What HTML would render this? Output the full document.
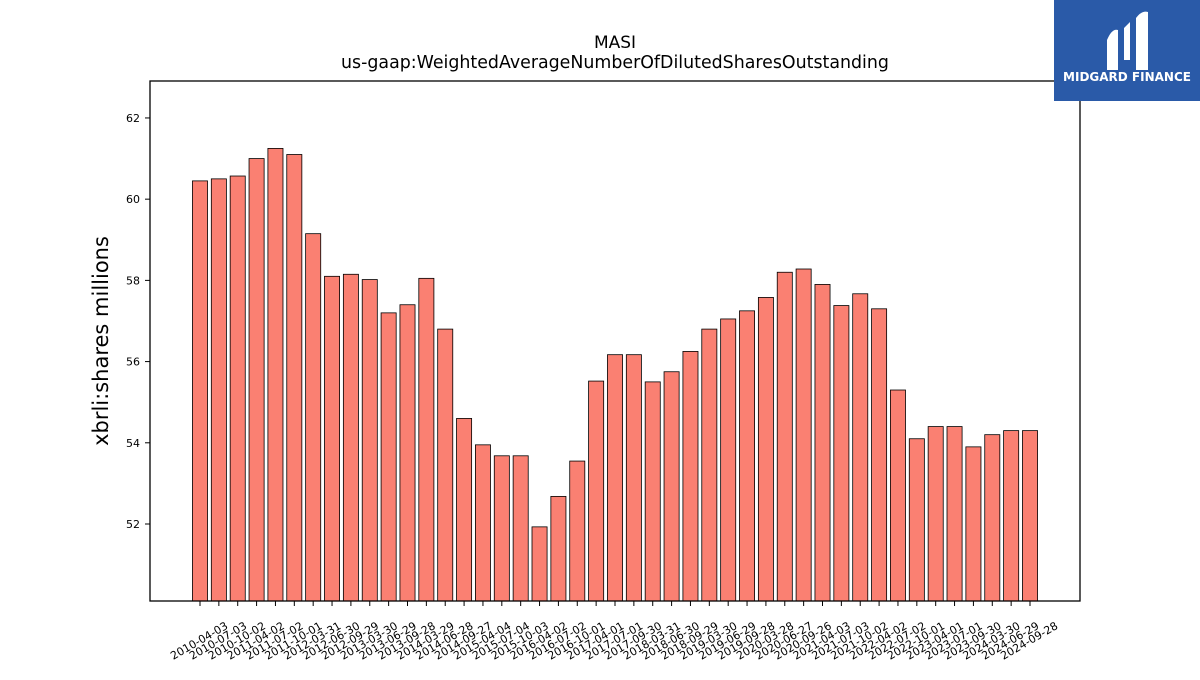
<!DOCTYPE html>
<html><head><meta charset="utf-8"><style>
body{margin:0;background:#fff;font-family:"Liberation Sans","DejaVu Sans",sans-serif}
</style></head><body>
<svg width="1200" height="675" xmlns="http://www.w3.org/2000/svg" font-family="DejaVu Sans, Liberation Sans, sans-serif">
<text x="615" y="48" text-anchor="middle" font-size="17">MASI</text>
<text x="615" y="68" text-anchor="middle" font-size="17.4">us-gaap:WeightedAverageNumberOfDilutedSharesOutstanding</text>
<text transform="translate(108,341) rotate(-90)" text-anchor="middle" font-size="21">xbrli:shares millions</text>
<g id="bars"></g>
<g id="axes"></g>
<rect x="150" y="81" width="930" height="520" fill="none" stroke="#000" stroke-width="1.3"/>
<g>
<rect x="1054" y="0" width="146" height="101" fill="#2a5aa8"/>
<path d="M1107 70 L1107 40 Q1112 28 1118 30 L1118 70 Z M1124 60 L1124 28 L1130 22 L1130 60 Z M1136 70 L1136 18 Q1142 10 1148 12 L1148 70 Z" fill="#fff"/>
<text x="1127" y="81" text-anchor="middle" font-size="12" font-weight="bold" fill="#fff">MIDGARD FINANCE</text>
</g>
</svg>
<script>
const categories=["2010-04-03","2010-07-03","2010-10-02","2011-04-02","2011-07-02","2011-10-01","2012-03-31","2012-06-30","2012-09-29","2013-03-30","2013-06-29","2013-09-28","2014-03-29","2014-06-28","2014-09-27","2015-04-04","2015-07-04","2015-10-03","2016-04-02","2016-07-02","2016-10-01","2017-04-01","2017-07-01","2017-09-30","2018-03-31","2018-06-30","2018-09-29","2019-03-30","2019-06-29","2019-09-28","2020-03-28","2020-06-27","2020-09-26","2021-04-03","2021-07-03","2021-10-02","2022-04-02","2022-07-02","2022-10-01","2023-04-01","2023-07-01","2023-09-30","2024-03-30","2024-06-29","2024-09-28"];
const values=[60.45,60.5,60.57,61.0,61.25,61.1,59.15,58.1,58.15,58.02,57.2,57.4,58.05,56.8,54.6,53.95,53.68,53.68,51.93,52.68,53.55,55.52,56.17,56.17,55.5,55.75,56.25,56.8,57.05,57.25,57.58,58.2,58.28,57.9,57.38,57.67,57.3,55.3,54.1,54.4,54.4,53.9,54.2,54.3,54.3];
const yTicks=[52,54,56,58,60,62];
const NS="http://www.w3.org/2000/svg";
const L=150,R=1080,T=81,B=601;
const yMin=50.104,yMax=62.91;
const xMin=-2.65,xMax=categories.length-1+2.65;
const y=v=>B-(v-yMin)/(yMax-yMin)*(B-T);
const x=i=>L+(i-xMin)/(xMax-xMin)*(R-L);
const bw=(x(0.8)-x(0));
const bars=document.getElementById('bars'),axes=document.getElementById('axes');
function mk(t,a,p){const e=document.createElementNS(NS,t);for(const k in a)e.setAttribute(k,a[k]);p.appendChild(e);return e;}
values.forEach((v,i)=>{
 const r=mk('rect',{x:x(i)-bw/2,y:y(v),width:bw,height:B-y(v),fill:'#fa8072',stroke:'#000','stroke-width':0.8},bars);
 
 
});
yTicks.forEach(t=>{
 mk('line',{x1:L-5,x2:L,y1:y(t),y2:y(t),stroke:'#000'},axes);
 const tx=mk('text',{x:L-10,y:y(t)+4,'text-anchor':'end','font-size':11},axes);
 tx.textContent=t;
 
 
});
categories.forEach((c,i)=>{
 mk('line',{x1:x(i),x2:x(i),y1:B,y2:B+5,stroke:'#000'},axes);
 const tx=mk('text',{transform:`translate(${x(i)+1},${B+43}) rotate(-30)`,'text-anchor':'middle','font-size':11},axes);
 tx.textContent=c;
 
 
});
</script>
</body></html>
